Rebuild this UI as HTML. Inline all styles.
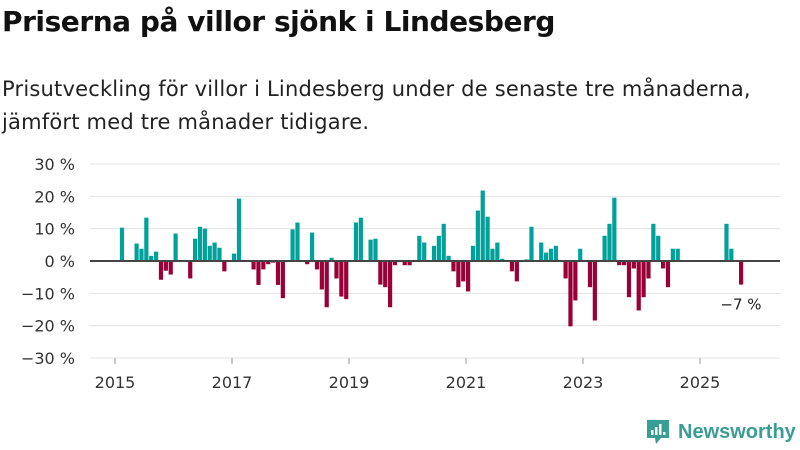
<!DOCTYPE html>
<html><head><meta charset="utf-8"><style>
body{margin:0;width:800px;height:450px;background:#fff;font-family:"DejaVu Sans","Liberation Sans",sans-serif;color:#111;overflow:hidden;position:relative}
#title{position:absolute;left:2px;top:5px;font-size:28px;font-weight:bold;margin:0;letter-spacing:-0.45px}
#sub{position:absolute;left:2px;top:73px;font-size:21px;line-height:33px;color:#222;letter-spacing:0.2px}
svg{position:absolute;left:0;top:0}
#logo{position:absolute;left:645px;top:418px;display:flex;align-items:center;color:#3a9d93;font-size:20px;font-weight:bold;font-family:"Liberation Sans",sans-serif}
</style></head><body>
<h1 id="title">Priserna på villor sjönk i Lindesberg</h1>
<div id="sub">Prisutveckling för villor i Lindesberg under de senaste tre månaderna,<br>jämfört med tre månader tidigare.</div>
<svg id="chart" width="800" height="450"></svg>
<div id="logo">
<svg style="position:static" width="26" height="28" viewBox="0 0 26 28"><path d="M2 2h22v18l-8 0-5 6-1-6H2z" fill="#3a9d93"/><rect x="6" y="12" width="2.5" height="5" fill="#fff"/><rect x="10" y="9" width="2.5" height="8" fill="#fff"/><rect x="14" y="6" width="2.5" height="11" fill="#fff"/><rect x="18" y="14" width="2.5" height="3" fill="#fff"/></svg>
<span style="margin-left:7px">Newsworthy</span></div>
<script>
const yTicks=[30,20,10,0,-10,-20,-30];
const xTickYears=[2015,2017,2019,2021,2023,2025];
const values=[0,10.3,0,0,5.4,3.8,13.4,1.6,2.9,-5.8,-3,-4.2,8.5,0.3,0.3,-5.4,6.9,10.6,10,4.7,5.7,4.1,-3.2,0,2.3,19.3,0,0,-2.6,-7.4,-2.6,-1,-0.5,-7.4,-11.5,0,9.8,11.9,0,-1,8.8,-2.6,-8.8,-14.3,1,-5.4,-11,-11.8,0,11.9,13.4,0,6.6,6.9,-7.3,-8.1,-14.3,-1.3,0,-1.3,-1.3,0,7.8,5.7,0,4.7,7.8,11.5,1.6,-3.2,-8.1,-6.3,-9.4,4.7,15.6,21.8,13.7,3.8,5.7,0.7,0,-3.2,-6.3,0,0.5,10.6,0,5.7,2.6,3.8,4.7,0,-5.4,-20.2,-12.2,3.8,0,-8.1,-18.4,0,7.8,11.5,19.6,-1.3,-1.3,-11.2,-2.3,-15.3,-11.2,-5.4,11.5,7.8,-2.3,-8.1,3.8,3.8,0,0,0,0,0,0,0,0,0,11.5,3.8,0,-7.3];
const lastLabel="−7 %";
const NS="http://www.w3.org/2000/svg";
const svg=document.getElementById('chart');
const y=v=>261-v*3.233;
const x=m=>117+m*4.875;
const FF='DejaVu Sans, Liberation Sans, sans-serif';
function mk(t,a){const e=document.createElementNS(NS,t);for(const k in a)e.setAttribute(k,a[k]);svg.appendChild(e);return e;}
yTicks.forEach(t=>{
 const l=mk('line',{x1:90,x2:780,y1:y(t),y2:y(t),stroke:'#e3e3e3','stroke-width':1});
 
 
 const tx=mk('text',{x:75,y:y(t)+6,'text-anchor':'end','font-size':16,fill:'#333','font-family':FF});
 tx.textContent=(t<0?'−'+(-t):t)+' %';
 
 
});
values.forEach((v,i)=>{
 if(v===0)return;
 const r=mk('rect',{x:x(i)-2,width:4.2,y:Math.min(y(v),y(0)),height:Math.abs(y(v)-y(0)),fill:v>0?'#00a19a':'#990038'});
 
 
});
const z=mk('line',{x1:90,x2:780,y1:y(0),y2:y(0),stroke:'#444','stroke-width':2});


xTickYears.forEach(yr=>{
 const m=(yr-2015)*12;
 const tk=mk('line',{x1:x(m)-2,x2:x(m)-2,y1:358,y2:364,stroke:'#999'});
 
 
 const tx=mk('text',{x:x(m)-2,y:388,'text-anchor':'middle','font-size':16,fill:'#333','font-family':FF});
 tx.textContent=yr;
 
 
});
const li=values.length-1;
const lb=mk('text',{x:x(li),y:y(values[li])+25,'text-anchor':'middle','font-size':15,fill:'#222','font-family':FF});
lb.textContent=lastLabel;


</script>
</body></html>
